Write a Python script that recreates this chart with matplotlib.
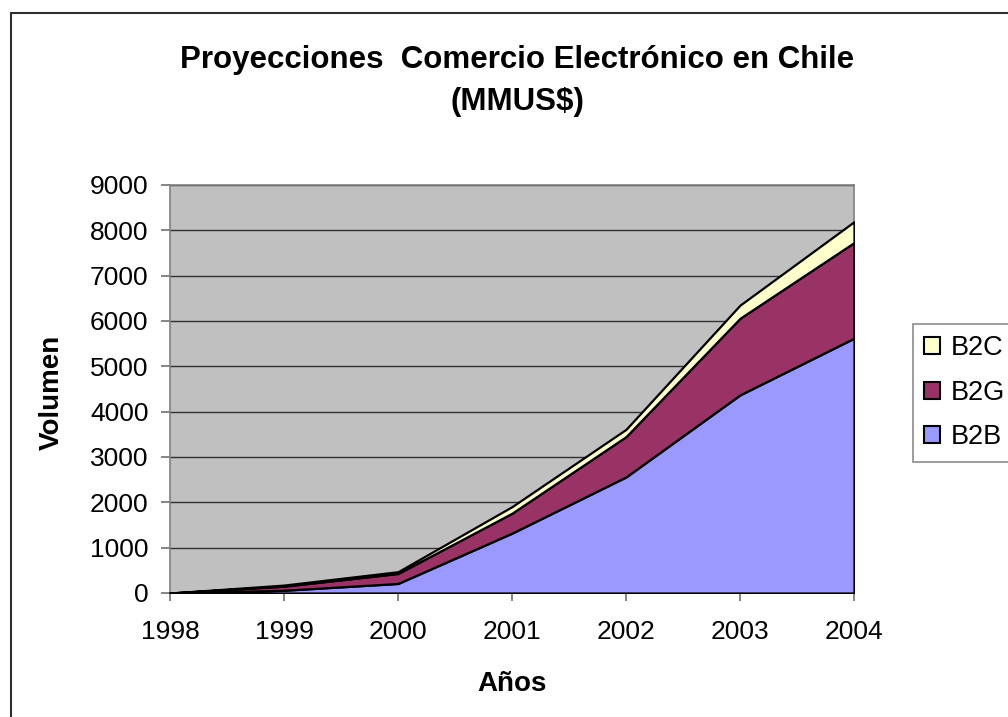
import matplotlib
matplotlib.use("Agg")
import matplotlib.pyplot as plt
from matplotlib.patches import Rectangle

plt.rcParams['font.family'] = ['Liberation Sans', 'DejaVu Sans']

years = [1998, 1999, 2000, 2001, 2002, 2003, 2004]
b2b = [0, 60, 210, 1320, 2560, 4370, 5620]
b2g = [0, 90, 220, 440, 890, 1690, 2110]
b2c = [0, 25, 40, 145, 160, 290, 460]
series_names = ["B2B", "B2G", "B2C"]
series_colors = ["#9999FF", "#993366", "#FFFFCC"]
y_ticks = list(range(0, 9001, 1000))

fig = plt.figure(figsize=(10.08, 7.17), dpi=100)
ax = fig.add_axes([170/1008, 1 - 593/717, (854 - 170)/1008, (593 - 185)/717])
ax.set_facecolor("#C0C0C0")

polys = ax.stackplot(years, b2b, b2g, b2c, colors=series_colors,
                     edgecolor="black", linewidth=1.6, labels=series_names, zorder=3)

ax.set_xlim(1998, 2004)
ax.set_ylim(0, 9000)
ax.set_yticks(y_ticks)
ax.set_xticks(years)
ax.set_xticklabels([str(y) for y in years])
ax.yaxis.grid(True, color="#303030", linewidth=1.0, zorder=1)
ax.set_axisbelow(True)
ax.tick_params(axis="both", labelsize=19, direction="out", color="#707070", width=1.2)
ax.tick_params(axis="y", length=6.5, pad=9)
ax.tick_params(axis="x", length=5.5, pad=14)
for side, sp in ax.spines.items():
    sp.set_color("#808080")
    sp.set_linewidth(1.2)
ax.spines["bottom"].set_color("black")

fig.text(517/1008, 1 - 60/717, "Proyecciones  Comercio Electrónico en Chile",
         ha="center", va="center", fontsize=22.5, fontweight="bold")
fig.text(517/1008, 1 - 102/717, "(MMUS$)",
         ha="center", va="center", fontsize=22.5, fontweight="bold")
fig.text(52/1008, 1 - 392/717, "Volumen", rotation=90,
         ha="center", va="center", fontsize=20, fontweight="bold")
fig.text(512/1008, 1 - 684/717, "Años",
         ha="center", va="center", fontsize=20, fontweight="bold")

handles = polys[::-1]
labels = series_names[::-1]
leg = fig.legend(handles, labels, loc="upper left",
                 bbox_to_anchor=(913/1008, 1 - 324/717),
                 fontsize=19.5, frameon=True, fancybox=False,
                 handlelength=0.58, handleheight=0.58, handletextpad=0.4,
                 labelspacing=0.68, borderpad=0.42, borderaxespad=0)
leg.get_frame().set_edgecolor("#707070")
leg.get_frame().set_linewidth(1.2)
for h in leg.legend_handles:
    h.set_linewidth(1.5)

border = Rectangle((11/1008, -0.02), 1.0, 1 - 13/717 + 0.02,
                   transform=fig.transFigure, fill=False,
                   edgecolor="#303030", linewidth=1.5, clip_on=False)
fig.patches.append(border)

fig.savefig("out.png", dpi=100)
